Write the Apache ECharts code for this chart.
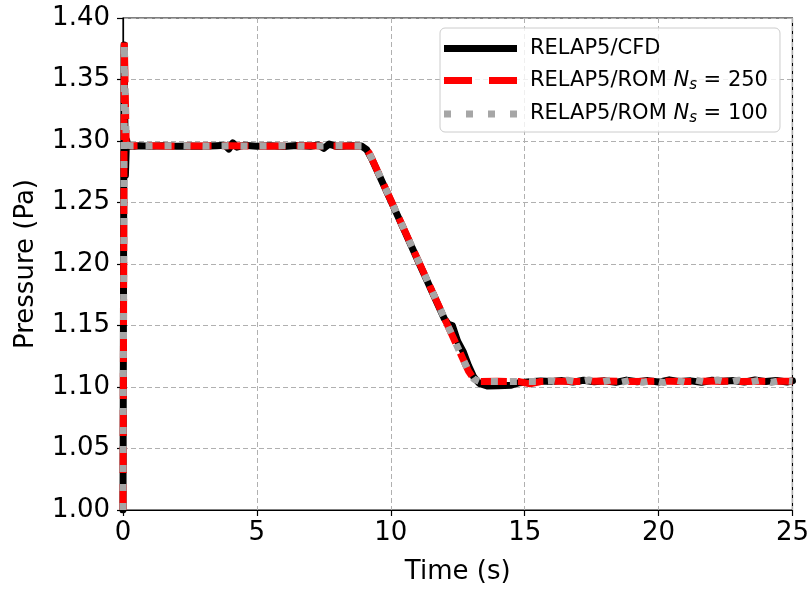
<!DOCTYPE html>
<html>
<head>
<meta charset="utf-8">
<script src="https://cdn.jsdelivr.net/npm/echarts@6/dist/echarts.min.js"></script>
<style>
  html, body { margin: 0; padding: 0; background: #fff; }
  #chart { width: 812px; height: 590px; }
</style>
</head>
<body>
<div id="chart"></div>
<script>
// time (s) and pressure (Pa)
const cfdTime = [0, 0.04, 0.09, 0.13, 0.18, 0.3, 0.6, 1.0, 1.5, 2.0, 2.5, 3.0, 3.5, 3.8, 3.95, 4.1, 4.25, 4.5,
  5.0, 5.5, 6.0, 6.5, 7.0, 7.3, 7.5, 7.7, 8.0, 8.5, 8.9, 9.1, 9.3, 10, 10.5, 11, 11.5, 12.0, 12.15, 12.3, 12.5,
  12.7, 12.9, 13.1, 13.3, 13.6, 14.0, 14.5, 14.8, 15.2, 15.6, 16, 16.4, 16.8, 17.2, 17.6, 18, 18.4, 18.8, 19.2,
  19.6, 20, 20.4, 20.8, 21.2, 21.6, 22, 22.4, 22.8, 23.2, 23.6, 24, 24.4, 24.8, 25];
const cfdPressure = [1.000, 1.378, 1.272, 1.301, 1.297, 1.2955, 1.2962, 1.2958, 1.2962, 1.2958, 1.2960, 1.2957,
  1.2962, 1.2966, 1.2935, 1.2985, 1.2950, 1.2965, 1.2958, 1.2962, 1.2956, 1.2963, 1.2958, 1.2968, 1.2940, 1.2975,
  1.2955, 1.2962, 1.2960, 1.2930, 1.2850, 1.2515, 1.2275, 1.2035, 1.1795, 1.1555, 1.1510, 1.1500, 1.1370, 1.1290,
  1.1175, 1.1080, 1.1030, 1.1008, 1.1010, 1.1015, 1.1035, 1.1042, 1.1048, 1.1044, 1.1052, 1.1040, 1.1055, 1.1042,
  1.1050, 1.1038, 1.1056, 1.1043, 1.1052, 1.1040, 1.1058, 1.1044, 1.1050, 1.1038, 1.1055, 1.1046, 1.1052, 1.1040,
  1.1057, 1.1044, 1.1053, 1.1041, 1.1050];

const rom250Time = [0, 0.05, 0.12, 0.3, 1, 2, 3, 4, 5, 6, 7, 8, 9.0, 9.2, 10, 11, 12, 12.9, 13.1, 13.3, 14,
  14.8, 15.2, 15.6, 16, 17, 18, 19, 20, 21, 22, 23, 24, 25];
const rom250Pressure = [1.000, 1.380, 1.297, 1.296, 1.2962, 1.2958, 1.2960, 1.2962, 1.2958, 1.2960, 1.2961,
  1.2959, 1.2960, 1.2900, 1.2520, 1.2040, 1.1560, 1.1130, 1.1065, 1.1045, 1.1046, 1.1044, 1.1025, 1.1045,
  1.1047, 1.1044, 1.1048, 1.1045, 1.1047, 1.1044, 1.1048, 1.1045, 1.1047, 1.1046];

const rom100Time = [0, 0.05, 0.12, 0.3, 1, 2, 3, 4, 5, 6, 7, 8, 9.0, 9.2, 10, 11, 12, 12.9, 13.1, 13.3, 14,
  15, 15.6, 16.0, 16.3, 16.6, 17.0, 17.4, 17.8, 18.2, 18.6, 19.0, 19.4, 19.8, 20.2, 20.6, 21.0, 21.4, 21.8,
  22.2, 22.6, 23.0, 23.4, 23.8, 24.2, 24.6, 25];
const rom100Pressure = [1.000, 1.380, 1.297, 1.296, 1.2960, 1.2962, 1.2958, 1.2961, 1.2959, 1.2962, 1.2958,
  1.2961, 1.2960, 1.2900, 1.2520, 1.2040, 1.1560, 1.1130, 1.1065, 1.1046, 1.1045, 1.1046, 1.1044, 1.1050,
  1.1036, 1.1056, 1.1038, 1.1057, 1.1036, 1.1056, 1.1038, 1.1058, 1.1037, 1.1056, 1.1036, 1.1057, 1.1038,
  1.1056, 1.1037, 1.1057, 1.1036, 1.1056, 1.1038, 1.1057, 1.1037, 1.1055, 1.1046];

const seriesNames = ['RELAP5/CFD', 'RELAP5/ROM Ns = 250', 'RELAP5/ROM Ns = 100'];

// legend swatches: solid, dashed, dotted
const legendIcons = [
  'path://M0,0h73v7h-73z',
  'path://M0,0h28v7h-28z M45,0h28v7h-28z',
  'path://M0,0h7v7h-7z M22,0h7v7h-7z M44,0h7v7h-7z M66,0h7v7h-7z'
];

function pairs(xs, ys) {
  return xs.map((x, i) => [x, ys[i]]);
}

const font = 'DejaVu Sans';
const chart = echarts.init(document.getElementById('chart'));

chart.setOption({
  animation: false,
  backgroundColor: '#fff',
  grid: {
    left: 123, right: 19, top: 18, bottom: 77,
    show: true, borderColor: '#000', borderWidth: 1.2
  },
  xAxis: {
    type: 'value', min: 0, max: 25, interval: 5,
    name: 'Time (s)', nameLocation: 'middle', nameGap: 49,
    nameTextStyle: { fontFamily: font, fontSize: 26, color: '#000' },
    axisLine: { show: true, onZero: false, lineStyle: { color: '#000', width: 1.2 } },
    axisTick: { show: true, inside: false, length: 6, lineStyle: { color: '#000', width: 1.2 } },
    axisLabel: { fontFamily: font, fontSize: 26, color: '#000', margin: 10 },
    splitLine: { show: true, lineStyle: { color: '#b0b0b0', type: [5, 3], width: 1 } }
  },
  yAxis: {
    type: 'value', min: 1.0, max: 1.4, interval: 0.05,
    name: 'Pressure (Pa)', nameLocation: 'middle', nameGap: 84, nameRotate: 90,
    nameTextStyle: { fontFamily: font, fontSize: 26, color: '#000' },
    axisLine: { show: true, lineStyle: { color: '#000', width: 1.2 } },
    axisTick: { show: true, inside: false, length: 6, lineStyle: { color: '#000', width: 1.2 } },
    axisLabel: { fontFamily: font, fontSize: 26, color: '#000', margin: 13,
      formatter: v => v.toFixed(2) },
    splitLine: { show: true, lineStyle: { color: '#b0b0b0', type: [5, 3], width: 1 } }
  },
  legend: {
    orient: 'vertical', left: 440, top: 28,
    padding: [10, 12, 6, 4],
    itemWidth: 73, itemHeight: 7, itemGap: 11,
    backgroundColor: 'rgba(255,255,255,0.8)',
    borderColor: '#cccccc', borderWidth: 1, borderRadius: 5,
    data: seriesNames.map((n, i) => ({ name: n, icon: legendIcons[i] })),
    formatter: name => {
      if (name === seriesNames[0]) return '{f|RELAP5/CFD}';
      const num = name.split('= ')[1];
      return '{f|RELAP5/ROM }{n|N}{s|s}{a| = ' + num + '}';
    },
    textStyle: {
      fontFamily: font, fontSize: 21, color: '#000',
      rich: {
        f: { fontFamily: font, fontSize: 21, color: '#000', lineHeight: 24, padding: [0, 0, 0, 8] },
        a: { fontFamily: font, fontSize: 21, color: '#000', lineHeight: 24 },
        n: { fontFamily: font, fontSize: 21, fontStyle: 'italic', color: '#000', lineHeight: 24 },
        s: { fontFamily: font, fontSize: 15, fontStyle: 'italic', color: '#000', lineHeight: 14,
          verticalAlign: 'bottom' }
      }
    }
  },
  series: [
    {
      name: seriesNames[0], type: 'line', data: pairs(cfdTime, cfdPressure),
      showSymbol: false, symbol: 'none', z: 2,
      lineStyle: { color: '#000', width: 7, cap: 'round', join: 'round' },
      itemStyle: { color: '#000' }
    },
    {
      name: seriesNames[1], type: 'line', data: pairs(rom250Time, rom250Pressure),
      showSymbol: false, symbol: 'none', z: 3,
      lineStyle: { color: '#ff0000', width: 7, type: [26, 11], cap: 'butt' },
      itemStyle: { color: '#ff0000' }
    },
    {
      name: seriesNames[2], type: 'line', data: pairs(rom100Time, rom100Pressure),
      showSymbol: false, symbol: 'none', z: 4,
      lineStyle: { color: '#a6a6a6', width: 7, type: [7, 12], cap: 'butt' },
      itemStyle: { color: '#a6a6a6' }
    }
  ]
});
</script>
</body>
</html>
